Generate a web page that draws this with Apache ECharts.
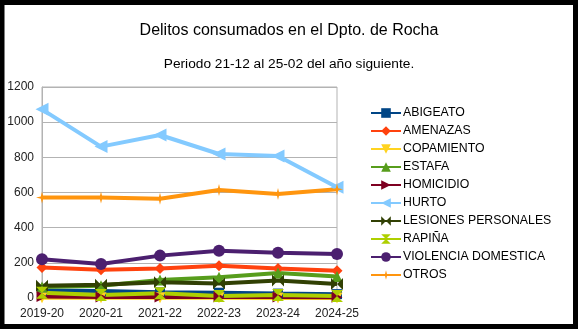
<!DOCTYPE html>
<html><head><meta charset="utf-8">
<script src="https://cdn.jsdelivr.net/npm/echarts@6/dist/echarts.min.js"></script>
<style>html,body{margin:0;padding:0;background:#fff}#c{width:578px;height:329px}</style>
</head><body><div id="c"></div>
<script>
const categories = ['2019-20','2020-21','2021-22','2022-23','2023-24','2024-25'];
const abigeato   = [42, 40, 32, 30, 25, 22];
const amenazas   = [173, 160, 168, 183, 168, 155];
const copamiento = [2, 1, 1, 1, 0, 0];
const estafa     = [62, 70, 102, 118, 142, 122];
const homicidio  = [8, 6, 5, 5, 5, 4];
const hurto      = [1073, 861, 927, 819, 808, 630];
const lesiones   = [70, 75, 90, 83, 100, 80];
const rapina     = [30, 17, 27, 12, 17, 12];
const violencia  = [220, 193, 241, 269, 258, 250];
const otros      = [571, 571, 565, 614, 592, 618];
const yTicks = [0, 200, 400, 600, 800, 1000, 1200];

const names = ['ABIGEATO','AMENAZAS','COPAMIENTO','ESTAFA','HOMICIDIO','HURTO','LESIONES PERSONALES','RAPIÑA','VIOLENCIA DOMESTICA','OTROS'];
const datas = [abigeato, amenazas, copamiento, estafa, homicidio, hurto, lesiones, rapina, violencia, otros];
const colors = ['#004586','#ff420e','#ffd320','#579d1c','#7e0021','#83caff','#314004','#aecf00','#4b1f6f','#ff950e'];
const symbols = [
  'rect','diamond',
  'path://M0,0L10,0L5,10Z',
  'path://M5,0L10,10L0,10Z',
  'path://M0,0L10,5L0,10Z',
  'path://M10,0L0,5L10,10Z',
  'path://M0,0L5,5L0,10ZM10,0L5,5L10,10Z',
  'path://M0,0L10,0L5,5ZM0,10L10,10L5,5Z',
  'circle',
  'path://M5,0L6,4L10,5L6,6L5,10L4,6L0,5L4,4Z'
];
const sizes = [10,11,11,11,11,13,12,12,12,12];

const chart = echarts.init(document.getElementById('c'), null, {renderer:'canvas'});
chart.setOption({
  animation:false,
  color: colors,
  textStyle:{fontFamily:'Liberation Sans, Arial, sans-serif'},
  title:[
    {text:'Delitos consumados en el Dpto. de Rocha', left:'center', top:18,
     textStyle:{fontSize:16, fontWeight:'normal', color:'#000', fontFamily:'Liberation Sans'}},
    {text:'Periodo 21-12 al 25-02 del año siguiente.', left:'center', top:52,
     textStyle:{fontSize:13.7, fontWeight:'normal', color:'#000', fontFamily:'Liberation Sans'}}
  ],
  grid:{left:42, right:241, top:87, bottom:31, show:true, borderColor:'#b3b3b3', borderWidth:1},
  legend:{
    orient:'vertical', left:370, top:107, itemWidth:30, itemHeight:12, itemGap:6, padding:0,
    textStyle:{fontSize:12.3, color:'#000', fontFamily:'Liberation Sans', padding:[0,0,0,-3]},
    data: names
  },
  xAxis:{type:'category', data:categories, boundaryGap:false,
    axisLine:{show:true, lineStyle:{color:'#b3b3b3'}}, axisTick:{show:false},
    splitLine:{show:false},
    axisLabel:{fontSize:12, color:'#222', margin:10, fontFamily:'Liberation Sans'}},
  yAxis:{type:'value', min:yTicks[0], max:yTicks[yTicks.length-1], interval:200,
    axisLine:{show:true, lineStyle:{color:'#b3b3b3'}}, axisTick:{show:false},
    splitLine:{lineStyle:{color:'#b3b3b3'}},
    axisLabel:{fontSize:12, color:'#222', margin:8, fontFamily:'Liberation Sans', formatter:v=>String(v)}},
  graphic:[{type:'rect', shape:{x:2, y:2.5, width:573.5, height:324}, style:{fill:'none', stroke:'#000', lineWidth:5}, z:100}],
  series: names.map((n,i)=>({
    name:n, type:'line', data:datas[i], symbol:symbols[i], symbolSize:sizes[i],
    lineStyle:{width:4, color:colors[i]}, itemStyle:{color:colors[i]}
  }))
});
</script></body></html>
